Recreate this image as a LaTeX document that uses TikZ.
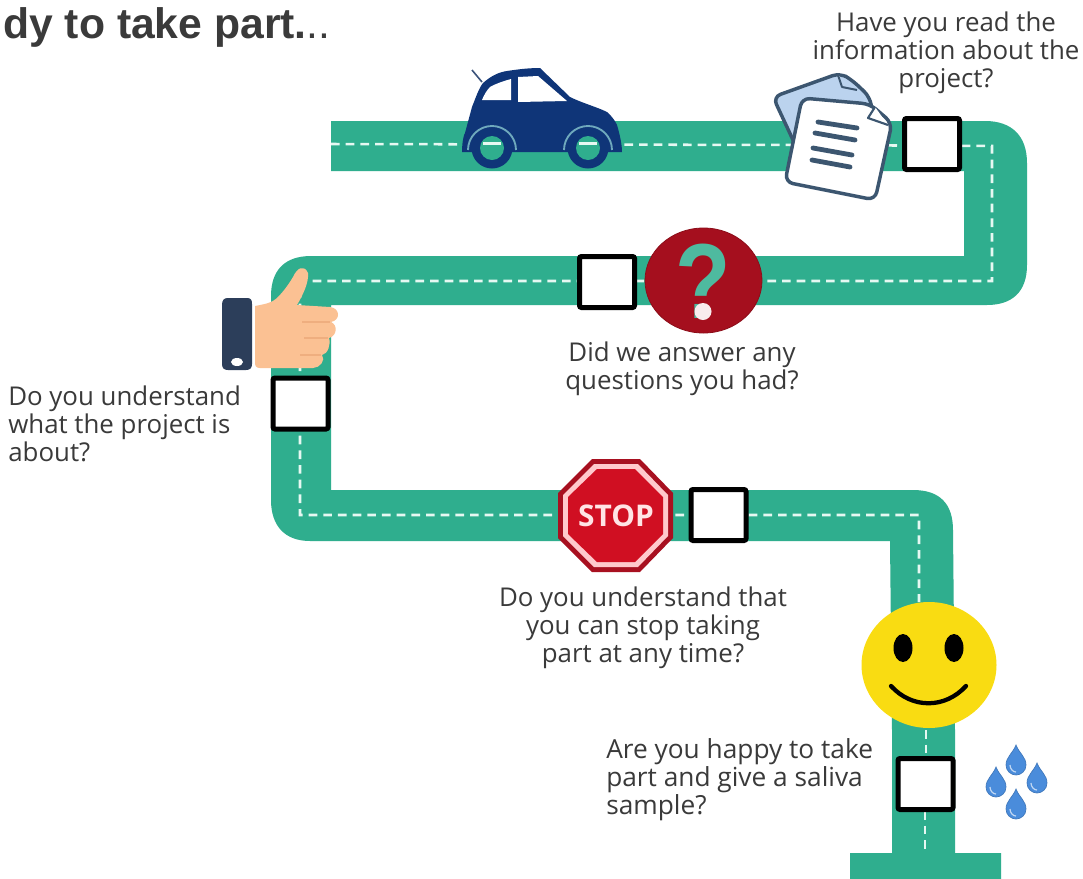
\documentclass[tikz,border=0pt]{standalone}
\usepackage{fontspec}
\usetikzlibrary{shapes.geometric}
\setmainfont{Open Sans}
\newfontfamily\titlefont{Liberation Sans}
\definecolor{road}{HTML}{2FAE8E}
\definecolor{dashc}{HTML}{E6F8F2}
\definecolor{carblue}{HTML}{0F3578}
\definecolor{archc}{HTML}{6FA9BD}
\definecolor{docline}{HTML}{3C5670}
\definecolor{docback}{HTML}{BBD3EE}
\definecolor{qred}{HTML}{A50F1E}
\definecolor{stopred}{HTML}{D00F22}
\definecolor{stopdark}{HTML}{A81020}
\definecolor{stoppale}{HTML}{FFC9CC}
\definecolor{smile}{HTML}{F9DC12}
\definecolor{skin}{HTML}{FBC193}
\definecolor{skindark}{HTML}{EFAE7F}
\definecolor{cuff}{HTML}{2C3E5A}
\definecolor{drop}{HTML}{4A8CDB}
\definecolor{txt}{HTML}{3A3A3A}
\tikzset{
 x=0.75pt,y=-0.75pt,
 checkbox/.style={draw=black,fill=white,line width=3.75pt,rounded corners=1.5pt,minimum width=41.25pt,minimum height=38.25pt,inner sep=0pt,outer sep=0pt},
 label/.style={font=\fontsize{19.4}{21}\selectfont,text=txt,inner sep=0pt},
 centerline/.style={draw=dashc,line width=1.9pt,dash pattern=on 6.5pt off 4.5pt},
 dropshape/.pic={\fill[drop,draw=drop!85!black,line width=.5pt] (0,-17) .. controls (3,-9) and (10,-5) .. (10,3) .. controls (10,9) and (5,13) .. (0,13) .. controls (-5,13) and (-10,9) .. (-10,3) .. controls (-10,-5) and (-3,-9) .. (0,-17) -- cycle;
   \draw[white!65!drop,line width=.9pt] (-6,3) .. controls (-6,7) and (-3,10) .. (0,10);},
}
\begin{document}
\begin{tikzpicture}
\useasboundingbox (0,0) rectangle (1083,879);
\fill[white] (0,0) rectangle (1083,879);
% road
\fill[road] (331,121) -- (985,121) .. controls (1012,121) and (1027,136) .. (1027,163) -- (1027,265)
  .. controls (1027,292) and (1012,305) .. (987,305) -- (331,305) -- (331,490) -- (913,490)
  .. controls (940,490) and (953,504) .. (953,530) -- (955,730) -- (955,853) -- (1001,853) -- (1001,879) -- (850,879) -- (850,853) -- (892,853)
  -- (892,730) -- (890,541) -- (310,541) .. controls (285,541) and (271,526) .. (271,500) -- (271,296)
  .. controls (271,270) and (285,256) .. (311,256) -- (964,256) -- (964,171) -- (331,171) -- cycle;
\draw[centerline] (331,144) -- (800,145) -- (992,146) -- (992,281) -- (300,281) -- (300,515) -- (919,515) -- (919,602);
\draw[centerline] (926,730) -- (926,757);
\draw[centerline] (925,811) -- (925,853);
% boxes
\node[checkbox] (box1) at (932,144) {};
\node[checkbox] (box2) at (607,282) {};
\node[checkbox] (box3) at (300.5,403.5) {};
\node[checkbox] (box4) at (718.5,515) {};
\node[checkbox] (box5) at (925.5,784) {};
% car
\draw[carblue!60!gray,line width=1.2pt] (472,70) -- (482,82);
\fill[carblue] (462,152) .. controls (462,142) and (464,134) .. (465,133) -- (472,107) .. controls (476,97) and (479,88) .. (483,83)
  .. controls (492,75) and (500,72) .. (507,71) .. controls (520,69) and (530,68) .. (540,68)
  -- (570,97) .. controls (582,103) and (597,107) .. (607,112) .. controls (614,118) and (617,125) .. (617,125)
  .. controls (620,135) and (622,145) .. (622,152) -- cycle;
\fill[white] (482,100) .. controls (484,95) and (487,90) .. (490,87) .. controls (497,83) and (504,81) .. (511,79) -- (511,100) -- cycle;
\fill[white] (518,77) -- (538,76) -- (567,101) -- (518,102) -- cycle;
\foreach \cx in {492,588}{
  \draw[archc,line width=1.4pt] (\cx-24,150) arc[start angle=180,end angle=360,radius=24];
  \fill[carblue] (\cx,148) circle (20.5);
  \fill[road] (\cx,148) circle (12);
  \draw[dashc,line width=1.6pt] (\cx-9,143.5) -- (\cx+9,143.5);
}
% documents
\begin{scope}[line join=round]
\draw[docline,fill=docback,line width=2.6pt,rounded corners=6pt] (773,97) -- (840,73) -- (852,80) -- (870,97) -- (875,130) -- (800,155) -- cycle;
\draw[docline,fill=docback,line width=1.5pt] (838,75) -- (842,87) -- (857,90);
\draw[docline,fill=white,line width=2.6pt,rounded corners=6pt] (802,98) -- (870,104) -- (892,123) -- (875,200) -- (785,182) -- cycle;
\draw[docline,fill=white,line width=1.6pt] (875,107) -- (868,118) -- (888,125);
\draw[docline,line width=3.6pt,line cap=round] (818,122) -- (857,128) (815,133) -- (855,140) (813,148) -- (852,155) (812,160) -- (850,167);
\end{scope}
% hand
\fill[cuff] (222,305) .. controls (222,300) and (224,298) .. (228,298) -- (247,298) .. controls (251,298) and (252,300) .. (252,304) -- (252,364) .. controls (252,368) and (250,370) .. (246,370) -- (228,370) .. controls (224,370) and (222,368) .. (222,364) -- cycle;
\fill[white] (237,362) ellipse (6 and 4);
\fill[skin] (255,306) .. controls (265,304) and (272,303) .. (277,298) .. controls (285,290) and (290,282) .. (293,277)
  .. controls (297,268) and (304,264) .. (308,273) .. controls (309,282) and (303,295) .. (297,305)
  -- (330,307) .. controls (340,308) and (341,320) .. (331,322) .. controls (338,325) and (337,336) .. (329,338)
  .. controls (331,344) and (328,354) .. (322,355) .. controls (326,360) and (320,368) .. (313,368) -- (260,368) .. controls (256,368) and (255,366) .. (255,362) -- cycle;
\draw[skindark,line width=.8pt] (302,322) -- (330,322) (304,338) -- (328,338) (300,355) -- (321,355);
% question
\node[ellipse,fill=qred,draw=qred!85!black,line width=.6pt,minimum width=87.75pt,minimum height=78.75pt,inner sep=0pt] (qcircle) at (703.5,280.5) {};
\node[text=road!85!white,font=\titlefont\bfseries\fontsize{80}{80}\selectfont,inner sep=0pt,xscale=.85] (qmark) at (703,281.5) {?};
\fill[white!92!qred] (703,311.5) circle (8.5);
% stop
\fill[stopdark] (592,459) -- (640,459) -- (673,493) -- (673,538) -- (640,572) -- (592,572) -- (558,538) -- (558,493) -- cycle;
\fill[stoppale] (594,464) -- (638,464) -- (668,495) -- (668,536) -- (638,567) -- (594,567) -- (563,536) -- (563,495) -- cycle;
\fill[stopred] (597,469) -- (635,469) -- (663,497) -- (663,534) -- (635,562) -- (597,562) -- (568,534) -- (568,497) -- cycle;
\node[text=stoppale!50!white,font=\fontsize{22.4}{24}\selectfont\bfseries,inner sep=0pt] (stoptext) at (616,516) {STOP};
% smile
\node[ellipse,fill=smile,minimum width=101.25pt,minimum height=94.5pt,inner sep=0pt] (face) at (929,665) {};
\fill[black] (903,648) ellipse (9.5 and 14);
\fill[black] (954,648) ellipse (9.5 and 14);
\draw[black,line width=3.2pt,line cap=round] (891,686) .. controls (912,709) and (945,709) .. (966,686);
% drops
\path (1016,762) pic {dropshape};
\path (996,784) pic {dropshape};
\path (1037,780) pic {dropshape};
\path (1016,806) pic {dropshape};
% labels
\node[label,align=center,anchor=north] (t1) at (946,12) {Have you read the\\information about the\\project?};
\node[label,align=center,anchor=north] (t2) at (682,342) {Did we answer any\\questions you had?};
\node[label,align=left,anchor=north west] (t3) at (8,386) {Do you understand\\what the project is\\about?};
\node[label,align=center,anchor=north] (t4) at (643,587) {Do you understand that\\you can stop taking\\part at any time?};
\node[label,align=left,anchor=north west,font=\fontsize{19.7}{21}\selectfont] (t5) at (606,738) {Are you happy to take\\part and give a saliva\\sample?};
\node[anchor=base west,inner sep=0pt,text=txt,font=\titlefont\fontsize{32}{36}\selectfont] (title) at (3,38) {\textbf{dy to take part.}..};
\end{tikzpicture}
\end{document}
